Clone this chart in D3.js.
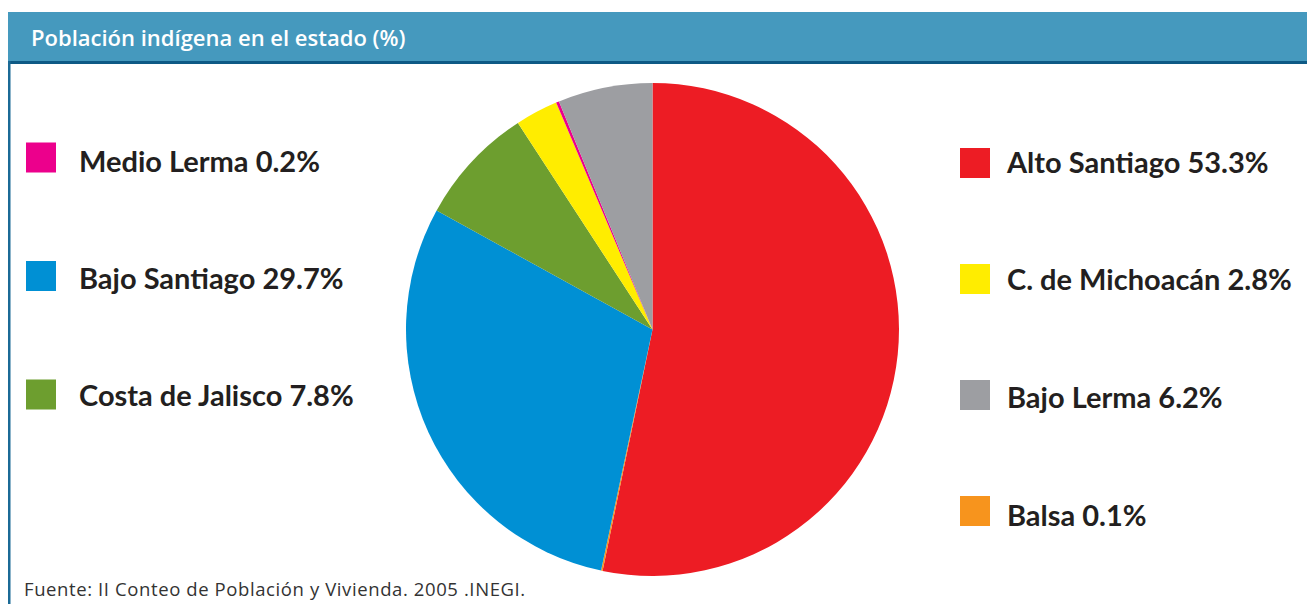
<!DOCTYPE html>
<html>
<head>
<meta charset="utf-8">
<script src="https://cdn.jsdelivr.net/npm/d3@7"></script>
<style>
  html, body { margin: 0; padding: 0; background: #ffffff; }
  svg { display: block; }
</style>
</head>
<body>
<svg id="chart" width="1307" height="604"></svg>
<script>
// Indigenous population by region (% of state total), INEGI 2005
const regions = ["Alto Santiago", "Balsa", "Bajo Santiago", "Costa de Jalisco", "C. de Michoacán", "Medio Lerma", "Bajo Lerma"];
const shares  = [53.3, 0.1, 29.7, 7.8, 2.8, 0.2, 6.2];
const colors  = ["#ED1C24", "#F7941D", "#0090D4", "#6D9E2F", "#FFED00", "#EC008C", "#9D9EA2"];

// Legend columns
const leftLegend  = ["Medio Lerma", "Bajo Santiago", "Costa de Jalisco"];
const rightLegend = ["Alto Santiago", "C. de Michoacán", "Bajo Lerma", "Balsa"];

const titleText  = "Población indígena en el estado (%)";
const sourceText = "Fuente: II Conteo de Población y Vivienda. 2005 .INEGI.";

const svg = d3.select("#chart");
const W = 1307, H = 604;

// Header band
svg.append("rect").attr("x", 8).attr("y", 12).attr("width", W - 8).attr("height", 49).attr("fill", "#4599BE");
svg.append("rect").attr("x", 8).attr("y", 61).attr("width", W - 8).attr("height", 3).attr("fill", "#0E5A85");
// Left frame rule
svg.append("rect").attr("x", 8).attr("y", 61).attr("width", 2.5).attr("height", H - 61).attr("fill", "#1B6A96");

svg.append("text")
  .attr("x", 31).attr("y", 46)
  .attr("fill", "#ffffff")
  .style("font-family", "'Open Sans', sans-serif")
  .style("font-weight", 600)
  .style("font-size", "22px")
  .text(titleText);

// Pie
const data = regions.map((r, i) => ({ region: r, value: shares[i] }));
const pie = d3.pie().value(d => d.value).sort(null);
const arc = d3.arc().innerRadius(0).outerRadius(246.5);
const color = d3.scaleOrdinal().domain(regions).range(colors);

svg.append("g")
  .attr("transform", "translate(652.5,329.5)")
  .selectAll("path")
  .data(pie(data))
  .join("path")
  .attr("d", arc)
  .attr("fill", d => color(d.data.region));

// Legends
const shareOf = name => shares[regions.indexOf(name)];
const fmt = v => d3.format(".1f")(v) + "%";

function legend(names, boxX, textX, boxY0, boxStep, textY0, textStep) {
  const g = svg.append("g");
  g.selectAll("rect").data(names).join("rect")
    .attr("x", boxX)
    .attr("y", (d, i) => boxY0 + i * boxStep - 15)
    .attr("width", 30).attr("height", 30)
    .attr("fill", d => color(d));
  g.selectAll("text").data(names).join("text")
    .attr("x", textX)
    .attr("y", (d, i) => textY0 + i * textStep)
    .attr("fill", "#231F20")
    .style("font-family", "Lato, 'Open Sans', sans-serif")
    .style("font-weight", 700)
    .style("font-size", "29px")
    .text(d => `${d} ${fmt(shareOf(d))}`);
}

legend(leftLegend, 26, 79, 157.5, 118.5, 171.5, 117.3);
legend(rightLegend, 960, 1007, 163, 116, 172.5, 117.8);

// Source note
svg.append("text")
  .attr("x", 24).attr("y", 596)
  .attr("fill", "#333333")
  .style("font-family", "'Open Sans', sans-serif")
  .style("font-size", "18.5px")
  .style("letter-spacing", "0.6px")
  .text(sourceText);
</script>
</body>
</html>
